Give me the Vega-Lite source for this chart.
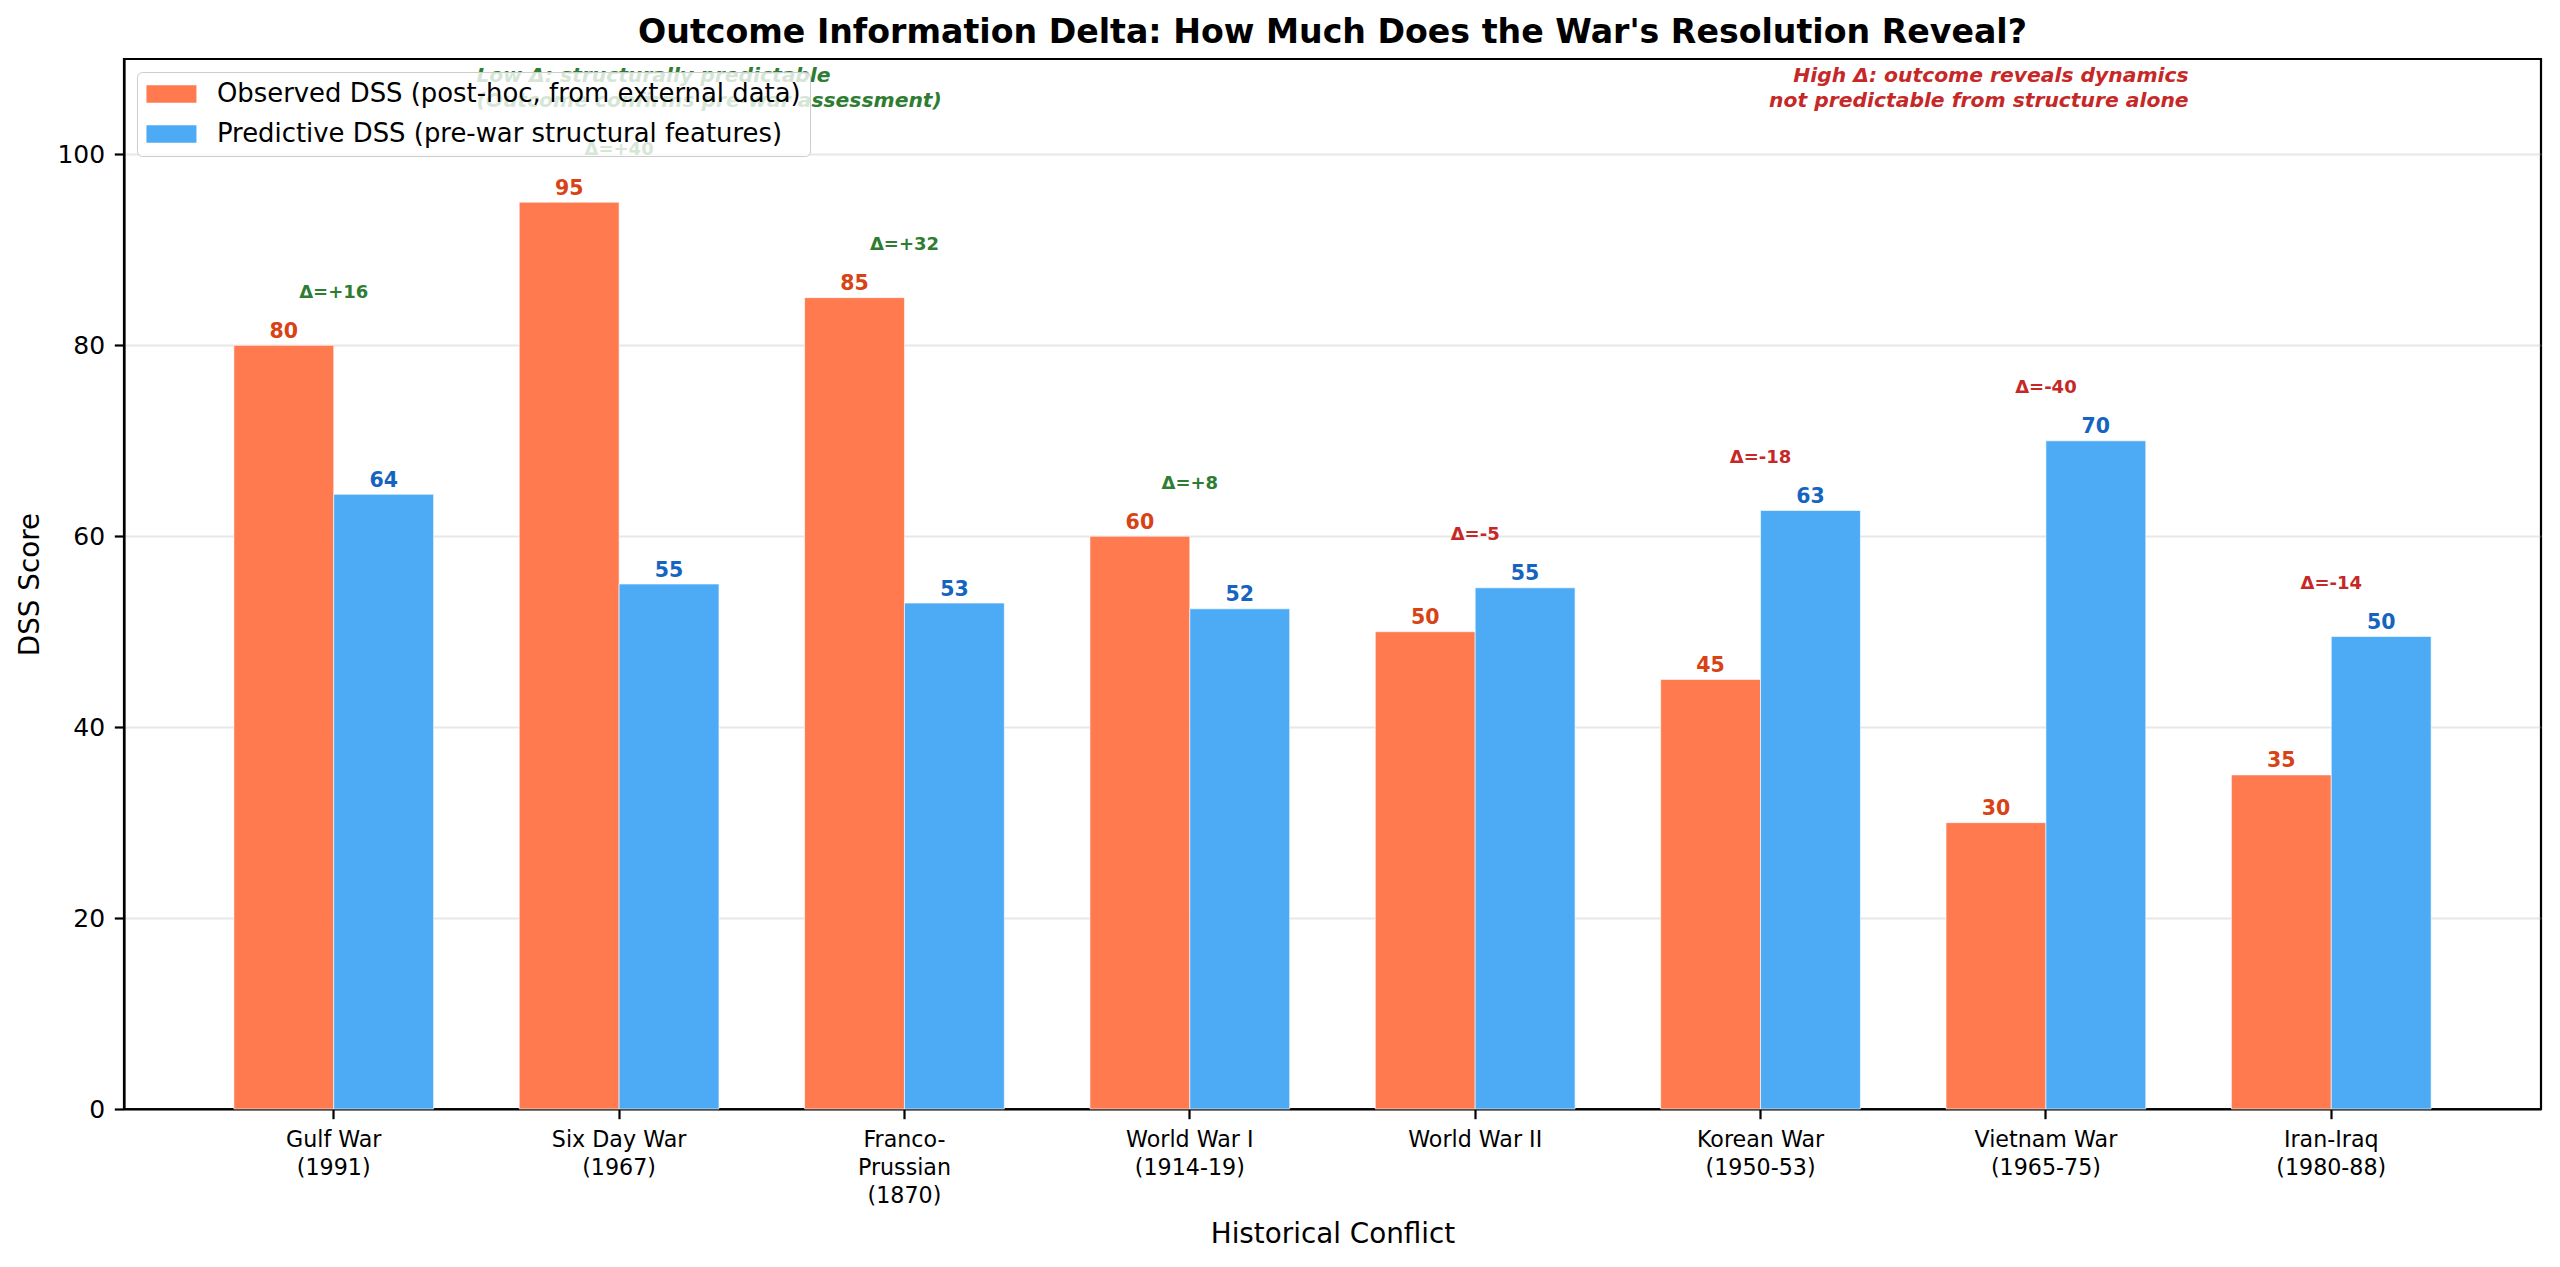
{
  "$schema": "https://vega.github.io/schema/vega-lite/v6.json",
  "width": 2417,
  "height": 1050,
  "autosize": {"type": "none"},
  "padding": {"left": 124, "top": 59, "right": 19, "bottom": 158},
  "background": "white",
  "title": {
    "text": "Outcome Information Delta: How Much Does the War's Resolution Reveal?",
    "fontSize": 33.2,
    "fontWeight": "bold",
    "color": "black",
    "anchor": "middle",
    "offset": 9
  },
  "config": {
    "font": "DejaVu Sans",
    "view": {"stroke": "black", "strokeWidth": 2.2},
    "axis": {
      "domainColor": "black",
      "domainWidth": 2.2,
      "tickColor": "black",
      "tickWidth": 2.2,
      "tickSize": 9.7,
      "labelPadding": 9.7,
      "labelColor": "black",
      "titleColor": "black",
      "titleFontWeight": "normal",
      "titleFontSize": 27.8,
      "zindex": 1
    },
    "legend": {
      "orient": "top-left",
      "offset": 13,
      "labelFontSize": 25.9,
      "labelColor": "black",
      "labelLimit": 2000,
      "labelOffset": 45,
      "symbolType": "M-1,-0.7H3V0.7H-1Z",
      "symbolSize": 625,
      "symbolStrokeWidth": 0,
      "symbolOpacity": 1,
      "rowPadding": 13,
      "padding": 9,
      "fillColor": "rgba(255,255,255,0.8)",
      "strokeColor": "#cccccc",
      "cornerRadius": 5,
      "zindex": 2
    }
  },
  "datasets": {
    "bars": [
      {"conflict": "Gulf War\n(1991)", "series": "Observed DSS (post-hoc, from external data)", "value": 80},
      {"conflict": "Gulf War\n(1991)", "series": "Predictive DSS (pre-war structural features)", "value": 64.4},
      {"conflict": "Six Day War\n(1967)", "series": "Observed DSS (post-hoc, from external data)", "value": 95},
      {"conflict": "Six Day War\n(1967)", "series": "Predictive DSS (pre-war structural features)", "value": 55},
      {"conflict": "Franco-\nPrussian\n(1870)", "series": "Observed DSS (post-hoc, from external data)", "value": 85},
      {"conflict": "Franco-\nPrussian\n(1870)", "series": "Predictive DSS (pre-war structural features)", "value": 53},
      {"conflict": "World War I\n(1914-19)", "series": "Observed DSS (post-hoc, from external data)", "value": 60},
      {"conflict": "World War I\n(1914-19)", "series": "Predictive DSS (pre-war structural features)", "value": 52.4},
      {"conflict": "World War II", "series": "Observed DSS (post-hoc, from external data)", "value": 50},
      {"conflict": "World War II", "series": "Predictive DSS (pre-war structural features)", "value": 54.6},
      {"conflict": "Korean War\n(1950-53)", "series": "Observed DSS (post-hoc, from external data)", "value": 45},
      {"conflict": "Korean War\n(1950-53)", "series": "Predictive DSS (pre-war structural features)", "value": 62.7},
      {"conflict": "Vietnam War\n(1965-75)", "series": "Observed DSS (post-hoc, from external data)", "value": 30},
      {"conflict": "Vietnam War\n(1965-75)", "series": "Predictive DSS (pre-war structural features)", "value": 70},
      {"conflict": "Iran-Iraq\n(1980-88)", "series": "Observed DSS (post-hoc, from external data)", "value": 35},
      {"conflict": "Iran-Iraq\n(1980-88)", "series": "Predictive DSS (pre-war structural features)", "value": 49.5}
    ],
    "deltas": [
      {"conflict": "Gulf War\n(1991)", "delta": 16, "label": "Δ=+16"},
      {"conflict": "Six Day War\n(1967)", "delta": 40, "label": "Δ=+40"},
      {"conflict": "Franco-\nPrussian\n(1870)", "delta": 32, "label": "Δ=+32"},
      {"conflict": "World War I\n(1914-19)", "delta": 8, "label": "Δ=+8"},
      {"conflict": "World War II", "delta": -5, "label": "Δ=-5"},
      {"conflict": "Korean War\n(1950-53)", "delta": -18, "label": "Δ=-18"},
      {"conflict": "Vietnam War\n(1965-75)", "delta": -40, "label": "Δ=-40"},
      {"conflict": "Iran-Iraq\n(1980-88)", "delta": -14, "label": "Δ=-14"}
    ],
    "lowNote": [
      {"x": 0.5, "y": 108.2, "text": "Low Δ: structurally predictable\n(Outcome confirms pre-war assessment)"}
    ],
    "highNote": [
      {"x": 6.5, "y": 108.2, "text": "High Δ: outcome reveals dynamics\nnot predictable from structure alone"}
    ]
  },
  "layer": [
    {
      "data": {"name": "bars"},
      "layer": [
        {
          "mark": {"type": "bar", "stroke": "white", "strokeWidth": 1, "strokeOpacity": 0.6},
          "encoding": {
            "x": {
              "field": "conflict",
              "type": "nominal",
              "sort": ["Gulf War\n(1991)", "Six Day War\n(1967)", "Franco-\nPrussian\n(1870)", "World War I\n(1914-19)", "World War II", "Korean War\n(1950-53)", "Vietnam War\n(1965-75)", "Iran-Iraq\n(1980-88)"],
              "scale": {"paddingInner": 0.3, "paddingOuter": 0.385},
              "title": "Historical Conflict",
              "axis": {
                "labelAngle": 0,
                "labelFontSize": 22.2,
                "labelLineHeight": 28,
                "labelBaseline": "top",
                "labelExpr": "split(datum.value, '\\n')",
                "titlePadding": 14
              }
            },
            "xOffset": {
              "field": "series",
              "sort": ["Observed DSS (post-hoc, from external data)", "Predictive DSS (pre-war structural features)"],
              "scale": {"paddingInner": 0, "paddingOuter": 0}
            },
            "y": {
              "field": "value",
              "type": "quantitative",
              "scale": {"domain": [0, 110]},
              "title": "DSS Score",
              "axis": {
                "values": [0, 20, 40, 60, 80, 100],
                "labelFontSize": 25,
                "grid": true,
                "gridColor": "#b0b0b0",
                "gridOpacity": 0.3,
                "gridWidth": 2.2,
                "titlePadding": 12
              }
            },
            "color": {
              "field": "series",
              "type": "nominal",
              "scale": {
                "domain": ["Observed DSS (post-hoc, from external data)", "Predictive DSS (pre-war structural features)"],
                "range": ["#FF7A4F", "#4DABF5"]
              },
              "legend": {"title": null}
            }
          }
        },
        {
          "mark": {"type": "text", "baseline": "alphabetic", "dy": -7.5, "fontSize": 20.5, "fontWeight": "bold"},
          "encoding": {
            "x": {
              "field": "conflict",
              "type": "nominal",
              "sort": ["Gulf War\n(1991)", "Six Day War\n(1967)", "Franco-\nPrussian\n(1870)", "World War I\n(1914-19)", "World War II", "Korean War\n(1950-53)", "Vietnam War\n(1965-75)", "Iran-Iraq\n(1980-88)"],
              "title": "Historical Conflict"
            },
            "xOffset": {
              "field": "series",
              "sort": ["Observed DSS (post-hoc, from external data)", "Predictive DSS (pre-war structural features)"]
            },
            "y": {"field": "value", "type": "quantitative", "title": "DSS Score"},
            "text": {"field": "value", "type": "quantitative", "format": ".0f"},
            "color": {
              "condition": {"test": "datum.series === 'Observed DSS (post-hoc, from external data)'", "value": "#D84315"},
              "value": "#1565C0"
            }
          }
        },
        {
          "transform": [
            {"aggregate": [{"op": "max", "field": "value", "as": "top"}], "groupby": ["conflict"]},
            {"lookup": "conflict", "from": {"data": {"name": "deltas"}, "key": "conflict", "fields": ["delta", "label"]}}
          ],
          "mark": {"type": "text", "baseline": "alphabetic", "dy": -47.5, "fontSize": 18, "fontWeight": "bold"},
          "encoding": {
            "x": {
              "field": "conflict",
              "type": "nominal",
              "sort": ["Gulf War\n(1991)", "Six Day War\n(1967)", "Franco-\nPrussian\n(1870)", "World War I\n(1914-19)", "World War II", "Korean War\n(1950-53)", "Vietnam War\n(1965-75)", "Iran-Iraq\n(1980-88)"],
              "title": "Historical Conflict"
            },
            "y": {"field": "top", "type": "quantitative", "title": "DSS Score"},
            "text": {"field": "label", "type": "nominal"},
            "color": {
              "condition": {"test": "datum.delta > 0", "value": "#2E7D32"},
              "value": "#C62828"
            }
          }
        }
      ]
    },
    {
      "data": {"name": "lowNote"},
      "mark": {"type": "text", "align": "left", "baseline": "middle", "lineBreak": "\n", "lineHeight": 25, "fontSize": 20.3, "fontWeight": "bold", "fontStyle": "italic", "color": "#2E7D32"},
      "encoding": {
        "x": {"field": "x", "type": "quantitative", "scale": {"domain": [-0.735, 7.735], "nice": false, "zero": false}, "axis": null},
        "y": {"field": "y", "type": "quantitative", "title": "DSS Score"},
        "text": {"field": "text", "type": "nominal"}
      }
    },
    {
      "data": {"name": "highNote"},
      "mark": {"type": "text", "align": "right", "baseline": "middle", "lineBreak": "\n", "lineHeight": 25, "fontSize": 20.3, "fontWeight": "bold", "fontStyle": "italic", "color": "#C62828"},
      "encoding": {
        "x": {"field": "x", "type": "quantitative", "scale": {"domain": [-0.735, 7.735], "nice": false, "zero": false}, "axis": null},
        "y": {"field": "y", "type": "quantitative", "title": "DSS Score"},
        "text": {"field": "text", "type": "nominal"}
      }
    }
  ],
  "resolve": {"scale": {"x": "independent"}}
}
